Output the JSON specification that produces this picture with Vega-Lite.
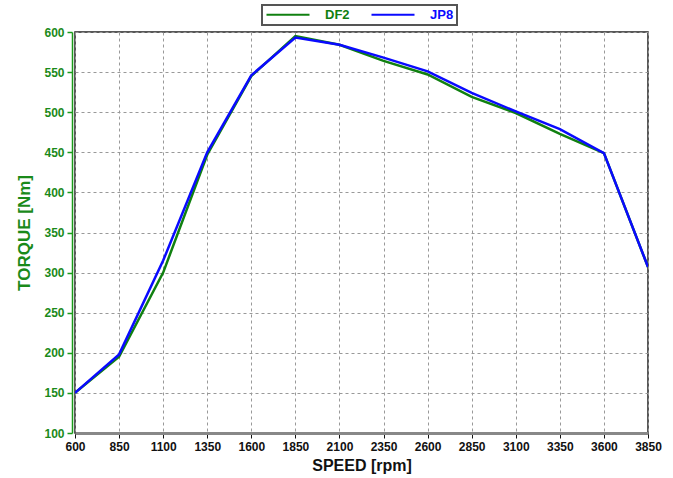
{
  "$schema": "https://vega.github.io/schema/vega-lite/v6.json",
  "width": 573,
  "height": 401,
  "autosize": "none",
  "padding": {"left": 75, "top": 32, "right": 25, "bottom": 45},
  "background": "white",
  "config": {
    "view": {"stroke": "#222", "strokeWidth": 1.5},
    "font": "Liberation Sans"
  },
  "data": {
    "values": [
      {"speed": 600, "torque": 150, "fuel": "DF2"},
      {"speed": 850, "torque": 195, "fuel": "DF2"},
      {"speed": 1100, "torque": 300, "fuel": "DF2"},
      {"speed": 1350, "torque": 447, "fuel": "DF2"},
      {"speed": 1600, "torque": 545, "fuel": "DF2"},
      {"speed": 1850, "torque": 595, "fuel": "DF2"},
      {"speed": 2100, "torque": 584, "fuel": "DF2"},
      {"speed": 2350, "torque": 564, "fuel": "DF2"},
      {"speed": 2600, "torque": 547, "fuel": "DF2"},
      {"speed": 2850, "torque": 519, "fuel": "DF2"},
      {"speed": 3100, "torque": 499, "fuel": "DF2"},
      {"speed": 3350, "torque": 473, "fuel": "DF2"},
      {"speed": 3600, "torque": 449, "fuel": "DF2"},
      {"speed": 3850, "torque": 307, "fuel": "DF2"},
      {"speed": 600, "torque": 150, "fuel": "JP8"},
      {"speed": 850, "torque": 198, "fuel": "JP8"},
      {"speed": 1100, "torque": 315, "fuel": "JP8"},
      {"speed": 1350, "torque": 450, "fuel": "JP8"},
      {"speed": 1600, "torque": 546, "fuel": "JP8"},
      {"speed": 1850, "torque": 593, "fuel": "JP8"},
      {"speed": 2100, "torque": 584, "fuel": "JP8"},
      {"speed": 2350, "torque": 568, "fuel": "JP8"},
      {"speed": 2600, "torque": 551, "fuel": "JP8"},
      {"speed": 2850, "torque": 524, "fuel": "JP8"},
      {"speed": 3100, "torque": 501, "fuel": "JP8"},
      {"speed": 3350, "torque": 479, "fuel": "JP8"},
      {"speed": 3600, "torque": 449, "fuel": "JP8"},
      {"speed": 3850, "torque": 307, "fuel": "JP8"}
    ]
  },
  "mark": {"type": "line", "strokeWidth": 2.5, "clip": true},
  "encoding": {
    "x": {
      "field": "speed",
      "type": "quantitative",
      "scale": {"domain": [600, 3850], "nice": false, "zero": false},
      "axis": {
        "title": "SPEED [rpm]",
        "values": [600, 850, 1100, 1350, 1600, 1850, 2100, 2350, 2600, 2850, 3100, 3350, 3600, 3850],
        "format": "d",
        "labelFlush": false,
        "labelOverlap": false,
        "labelFontWeight": "bold",
        "labelFontSize": 12,
        "labelColor": "#111",
        "labelPadding": 3,
        "titleFontWeight": "bold",
        "titleFontSize": 16,
        "titleColor": "#111",
        "titlePadding": 5,
        "domainColor": "#888",
        "domainWidth": 3,
        "tickColor": "#111",
        "tickSize": 5,
        "tickWidth": 1,
        "grid": true,
        "gridColor": "#999",
        "gridDash": [3, 3],
        "gridWidth": 1
      }
    },
    "y": {
      "field": "torque",
      "type": "quantitative",
      "scale": {"domain": [100, 600], "nice": false, "zero": false},
      "axis": {
        "title": "TORQUE [Nm]",
        "values": [100, 150, 200, 250, 300, 350, 400, 450, 500, 550, 600],
        "offset": 3,
        "labelFlush": false,
        "labelOverlap": false,
        "labelFontWeight": "bold",
        "labelFontSize": 12,
        "labelColor": "#1a8a1a",
        "labelPadding": 3,
        "titleFontWeight": "bold",
        "titleFontSize": 17,
        "titleColor": "#1a8a1a",
        "titlePadding": 10,
        "domainColor": "#1a9a1a",
        "domainWidth": 1.5,
        "tickColor": "#1a9a1a",
        "tickSize": 5,
        "tickWidth": 1.5,
        "grid": true,
        "gridColor": "#999",
        "gridDash": [3, 3],
        "gridWidth": 1
      }
    },
    "color": {
      "field": "fuel",
      "type": "nominal",
      "scale": {"domain": ["DF2", "JP8"], "range": ["#108010", "#0a0aff"]},
      "legend": {
        "title": null,
        "orient": "none",
        "direction": "horizontal",
        "legendX": 187,
        "legendY": -27,
        "symbolType": "stroke",
        "symbolSize": 1850,
        "symbolStrokeWidth": 2,
        "clipHeight": 13,
        "labelFontWeight": "bold",
        "labelFontSize": 13,
        "labelOffset": 14,
        "columnPadding": 20,
        "padding": 3,
        "fillColor": "white",
        "strokeColor": "#555",
        "encode": {
          "legend": {"update": {"strokeWidth": {"value": 2}}},
          "labels": {"update": {"fill": {"signal": "datum.value === 'DF2' ? '#108010' : '#0a0aff'"}}}
        }
      }
    },
    "order": {"field": "speed", "type": "quantitative"}
  }
}
